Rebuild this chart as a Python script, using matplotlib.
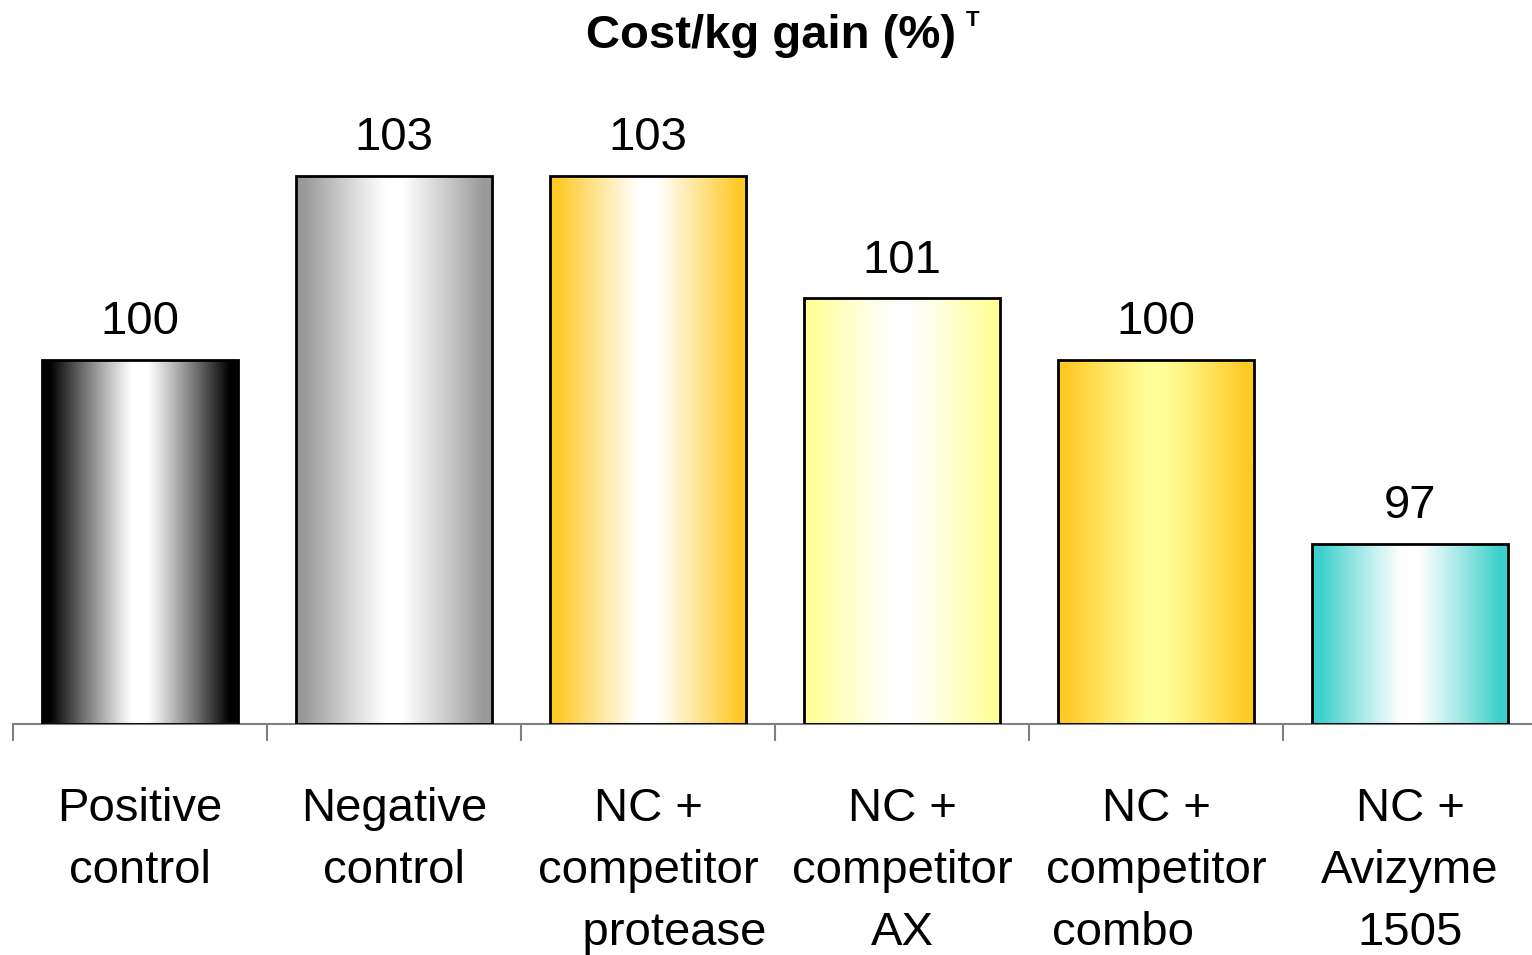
import numpy as np
import matplotlib
matplotlib.use('Agg')
import matplotlib.pyplot as plt
from matplotlib.colors import to_rgb

plt.rcParams['font.family'] = ['Liberation Sans', 'DejaVu Sans']

categories = ["Positive\ncontrol", "Negative\ncontrol", "NC +\ncompetitor\n    protease",
              "NC +\ncompetitor\nAX", "NC +\ncompetitor\ncombo     ", "NC +\nAvizyme\n1505"]
values = [100, 103, 103, 101, 100, 97]
edge_colors = ['#000000', '#999999', '#ffc926', '#ffff99', '#ffc926', '#3cd0cc']
center_colors = ['#ffffff', '#ffffff', '#ffffff', '#ffffff', '#ffff99', '#ffffff']

W, H = 1532, 955
fig = plt.figure(figsize=(W / 100, H / 100), dpi=100)
base_px, top_px = 724, 110
left_px, right_px = 13, 1537
ax = fig.add_axes([left_px / W, (H - base_px) / H, (right_px - left_px) / W, (base_px - top_px) / H])
ax.set_xlim(-0.5, len(values) - 0.5)
ax.set_ylim(94.06, 94.06 + (base_px - top_px) / 61.33)

x = np.arange(len(values))
bars = ax.bar(x, np.array(values) - 94.06, bottom=94.06, width=0.77,
              facecolor='none', edgecolor='black', linewidth=2, zorder=3)

# horizontal "cylinder" shading, clipped to each bar
u = np.linspace(0, 1, 256)
t = np.clip((np.abs(2 * u - 1) - 0.08) / 0.84, 0, 1) ** 1.1
for rect, ec, cc in zip(bars, edge_colors, center_colors):
    e = np.array(to_rgb(ec))
    c = np.array(to_rgb(cc))
    row = c[None, :] + (e - c)[None, :] * t[:, None]
    img = np.repeat(row[None, :, :], 2, axis=0)
    x0, y0 = rect.get_x(), rect.get_y()
    im = ax.imshow(img, extent=[x0, x0 + rect.get_width(), y0, y0 + rect.get_height()],
                   aspect='auto', interpolation='bilinear', zorder=2)
    im.set_clip_path(rect)

for xi, v in zip(x, values):
    ax.annotate(f"{v}", (xi, v), xytext=(0, 11), textcoords='offset points',
                ha='center', va='bottom', fontsize=34)

for xi, lab in zip(x, categories):
    ax.text(xi, -0.103, lab, transform=ax.get_xaxis_transform(), ha='center', va='top',
            fontsize=34, linespacing=1.52)

for s in ['top', 'right', 'left']:
    ax.spines[s].set_visible(False)
ax.spines['bottom'].set_color('#808080')
ax.spines['bottom'].set_linewidth(1.5)
ax.set_yticks([])
ax.set_xticks(np.arange(len(values) + 1) - 0.5)
ax.set_xticklabels([])
ax.tick_params(axis='x', direction='out', length=12, width=1.5, color='#808080')

title = fig.text(771 / W, 1 - 36 / H, "Cost/kg gain (%)", ha='center', va='center',
                 fontsize=34, fontweight='bold')
ax.annotate("T", xy=(1, 1), xycoords=title, xytext=(7, 3), textcoords='offset points',
            ha='left', va='top', fontsize=16, fontweight='bold')

fig.savefig('out.png', dpi=100)
